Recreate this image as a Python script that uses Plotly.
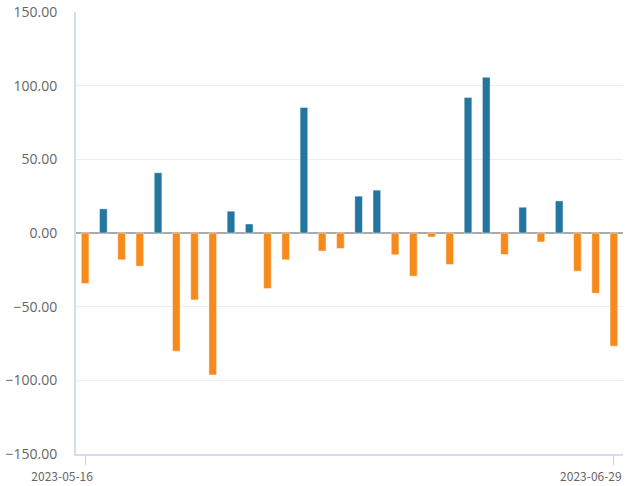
import plotly.graph_objects as go

dates = [
    "2023-05-16", "2023-05-17", "2023-05-18", "2023-05-19", "2023-05-22",
    "2023-05-23", "2023-05-24", "2023-05-25", "2023-05-26", "2023-05-29",
    "2023-05-30", "2023-05-31", "2023-06-01", "2023-06-02", "2023-06-05",
    "2023-06-06", "2023-06-07", "2023-06-08", "2023-06-09", "2023-06-12",
    "2023-06-13", "2023-06-14", "2023-06-15", "2023-06-16", "2023-06-19",
    "2023-06-20", "2023-06-21", "2023-06-26", "2023-06-28", "2023-06-29",
]
values = [
    -34.3, 16.4, -18.2, -22.5, 40.9, -80.2, -45.4, -96.3, 14.8, 6.1,
    -37.7, -18.2, 85.2, -12.3, -10.5, 25.0, 29.1, -14.8, -29.3, -2.7,
    -21.4, 92.0, 105.7, -14.6, 17.5, -6.1, 21.8, -25.9, -40.9, -76.8,
]
y_ticks = [-150, -100, -50, 0, 50, 100, 150]
x_ticks = [dates[0], dates[-1]]

POS = "#22769f"
NEG = "#f78a1d"
colors = [POS if v >= 0 else NEG for v in values]

fig = go.Figure(go.Bar(
    x=dates, y=values,
    marker=dict(color=colors, line=dict(color="rgba(255,255,255,0.45)", width=1)),
    width=0.42,
))

fig.update_layout(
    width=635, height=486,
    margin=dict(l=76, r=12, t=12, b=32),
    plot_bgcolor="white", paper_bgcolor="white",
    showlegend=False,
    font=dict(family="Noto Sans CJK JP, Noto Sans, sans-serif", color="#666666"),
)
fig.update_xaxes(
    type="category", automargin=False,
    range=[-0.5, len(dates) - 0.5],
    tickvals=x_ticks,
    ticks="outside", ticklen=9, tickcolor="#c8d3e6", tickwidth=1,
    showline=True, linecolor="#d6deee", linewidth=2,
    showgrid=False,
    ticklabelshift=-23, ticklabelstandoff=2,
    tickfont=dict(size=12, color="#666666"),
)
fig.update_yaxes(
    automargin=False,
    range=[-150, 150],
    tickvals=y_ticks, tickformat=".2f",
    showgrid=True, gridcolor="#ececec", gridwidth=1,
    zeroline=True, zerolinecolor="#aaaaaa", zerolinewidth=1.5,
    showline=True, linecolor="#d6deee", linewidth=2,
    ticks="", ticklabelstandoff=14, ticklabeloverflow="allow",
    tickfont=dict(size=14, color="#666666", family="Open Sans, sans-serif"),
)

fig.write_html(
    "out.html",
    config={"displayModeBar": False},
    post_script="document.body.style.margin='0';document.body.style.overflow='hidden';",
)
